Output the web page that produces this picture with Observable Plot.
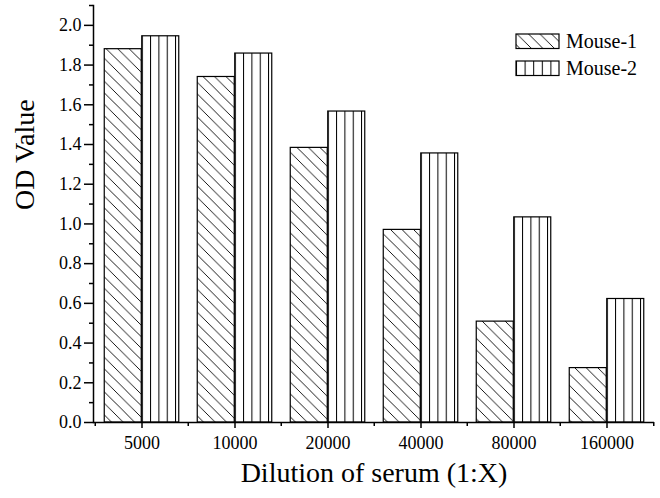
<!DOCTYPE html>
<html>
<head>
<meta charset="utf-8">
<script src="https://cdn.jsdelivr.net/npm/d3@7"></script>
<script src="https://cdn.jsdelivr.net/npm/@observablehq/plot@0.6"></script>
<style>
  html, body { margin: 0; padding: 0; background: white; }
</style>
</head>
<body>
<div id="chart"></div>
<script>
// ---- data ----
const dilutions = ["5000", "10000", "20000", "40000", "80000", "160000"];
const seriesNames = ["Mouse-1", "Mouse-2"];
const mouse1 = [1.88, 1.74, 1.383, 0.97, 0.508, 0.274];
const mouse2 = [1.945, 1.858, 1.566, 1.355, 1.033, 0.622];
const yMajorTicks = [0, 0.2, 0.4, 0.6, 0.8, 1.0, 1.2, 1.4, 1.6, 1.8, 2.0];
const yMinorTicks = [0.1, 0.3, 0.5, 0.7, 0.9, 1.1, 1.3, 1.5, 1.7, 1.9, 2.1];
const xTitle = "Dilution of serum (1:X)";
const yTitle = "OD Value";

const rows1 = dilutions.map((d, i) => ({dilution: d, value: mouse1[i]}));
const rows2 = dilutions.map((d, i) => ({dilution: d, value: mouse2[i]}));

// ---- layout ----
const W = 660, H = 498;
const mL = 93, mR = 6, mT = 5, mB = 76;
const band = (W - mL - mR) / dilutions.length;   // 93.5
const barW = 37.5;
const outer = (band - 2 * barW) / 2;
const axisW = 1.5;
const font = "'Liberation Serif', 'Times New Roman', serif";

const plot = Plot.plot({
  width: W,
  height: H,
  marginLeft: mL,
  marginRight: mR,
  marginTop: mT,
  marginBottom: mB,
  style: {fontFamily: font, fontSize: "18px", background: "white", color: "black"},
  x: {type: "band", domain: dilutions, padding: 0},
  y: {domain: [0, 2.1]},
  marks: [
    Plot.barY(rows1, {x: "dilution", y: "value", fill: "url(#hatchDiag)", stroke: "black", strokeWidth: 1.2,
      insetLeft: outer, insetRight: band / 2}),
    Plot.barY(rows2, {x: "dilution", y: "value", fill: "url(#hatchVert)", stroke: "black", strokeWidth: 1.2,
      insetLeft: band / 2, insetRight: outer}),
    Plot.ruleY([0], {stroke: "black", strokeWidth: axisW}),
    Plot.frame({anchor: "left", stroke: "black", strokeWidth: axisW}),
    Plot.axisY({ticks: yMajorTicks, tickFormat: d => d.toFixed(1), tickSize: 9, tickPadding: 3,
      fontSize: 18, fontFamily: font, label: null, strokeWidth: axisW}),
    Plot.axisY({ticks: yMinorTicks, tickFormat: () => "", tickSize: 4, label: null, strokeWidth: axisW}),
    Plot.axisX({tickSize: 6, tickPadding: 8, fontSize: 18, fontFamily: font, label: null, strokeWidth: axisW}),
    Plot.ruleX(dilutions, {x: d => d, y1: 0, y2: 0, insetBottom: -4, dx: -band / 2, stroke: "black", strokeWidth: axisW}),
    Plot.ruleX(dilutions.slice(-1), {x: d => d, y1: 0, y2: 0, insetBottom: -4, dx: band / 2, stroke: "black", strokeWidth: axisW}),
    Plot.text([xTitle], {text: d => d, frameAnchor: "bottom", dy: 59, fontSize: 28, fontFamily: font, fill: "black"}),
    Plot.text([yTitle], {text: d => d, frameAnchor: "left", rotate: -90, dx: -68, dy: -4, fontSize: 28, fontFamily: font, fill: "black"})
  ]
});

const svg = d3.select(plot);
const defs = svg.insert("defs", ":first-child");
// diagonal "\" hatch
const pd = defs.append("pattern").attr("id", "hatchDiag").attr("patternUnits", "userSpaceOnUse")
  .attr("width", 11.5).attr("height", 11.5);
pd.append("rect").attr("width", 11.5).attr("height", 11.5).attr("fill", "white");
pd.append("path").attr("d", "M0,0L11.5,11.5M-2,9.5L2,13.5M9.5,-2L13.5,2")
  .attr("stroke", "black").attr("stroke-width", 0.9).attr("fill", "none");
// vertical lines, aligned to each bar
const pv = defs.append("pattern").attr("id", "hatchVert").attr("patternUnits", "objectBoundingBox")
  .attr("width", 0.225).attr("height", 1);
pv.append("rect").attr("width", 100).attr("height", 2000).attr("fill", "white");
pv.append("line").attr("x1", 0.5).attr("x2", 0.5).attr("y1", 0).attr("y2", 2000)
  .attr("stroke", "black").attr("stroke-width", 1);
// legend vertical pattern
const pl = defs.append("pattern").attr("id", "hatchVertLeg").attr("patternUnits", "userSpaceOnUse")
  .attr("x", 516).attr("width", 8.6).attr("height", 100);
pl.append("rect").attr("width", 8.6).attr("height", 100).attr("fill", "white");
pl.append("line").attr("x1", 0.5).attr("x2", 0.5).attr("y1", 0).attr("y2", 100)
  .attr("stroke", "black").attr("stroke-width", 1);

// legend
const legend = svg.append("g").attr("font-family", font).attr("font-size", 20).attr("text-anchor", "start");
const legFills = ["url(#hatchDiag)", "url(#hatchVertLeg)"];
seriesNames.forEach((name, i) => {
  const y0 = 34 + i * 27;
  legend.append("rect").attr("x", 516).attr("y", y0).attr("width", 43).attr("height", 14.5)
    .attr("fill", legFills[i]).attr("stroke", "black").attr("stroke-width", 1.2);
  legend.append("text").attr("x", 566).attr("y", y0 + 14).attr("fill", "black").text(name);
});

document.getElementById("chart").appendChild(plot);
</script>
</body>
</html>
